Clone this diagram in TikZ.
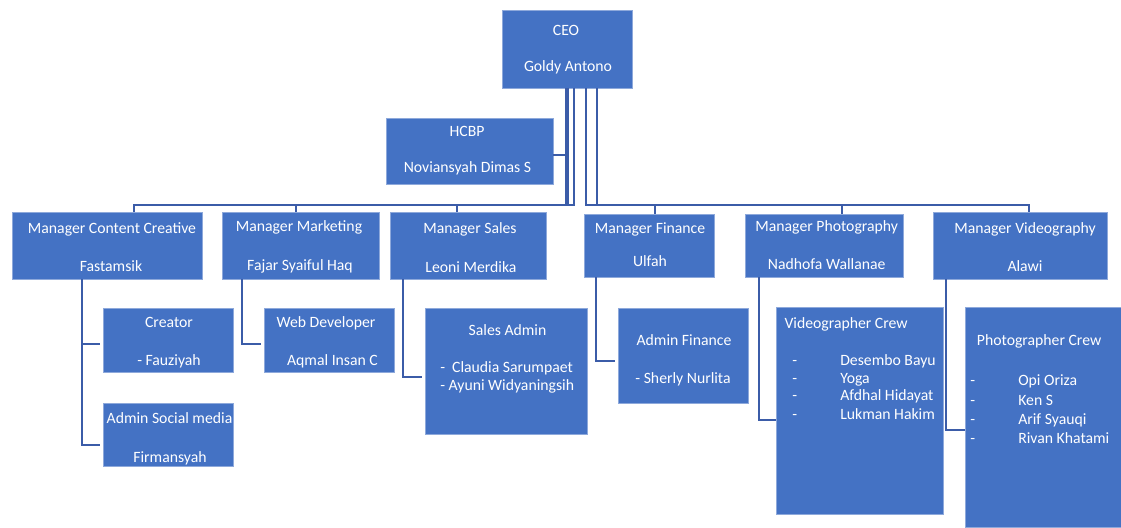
\documentclass[tikz,border=0pt]{standalone}
\usepackage{fontspec}
\setmainfont{Carlito}
\definecolor{boxblue}{HTML}{4472C4}
\definecolor{boxedge}{HTML}{8EA9DB}
\definecolor{linkblue}{HTML}{3B5CA8}
\newcommand\orgbox[5]{\node[orgbx, minimum width={(#4-#2)*0.75pt}, minimum height={(#5-#3)*0.75pt}] (#1) at ({(#2+#4)/2},{(#3+#5)/2}) {};}
\tikzset{
  orgbx/.style={rectangle, fill=boxblue, draw=boxedge, line width=0.4pt, inner sep=0pt, outer sep=0pt},
  orgtx/.style={text=white, font=\fontsize{11.8}{14}\selectfont, inner sep=0pt, anchor=base},
  orgtl/.style={orgtx, anchor=base west},
  conn/.style={draw=linkblue, line width=1.6pt, line join=miter}
}
\begin{document}
\begin{tikzpicture}[x=0.75pt,y=-0.75pt]
\useasboundingbox (0,0) rectangle (1121,528);
\fill[white] (0,0) rectangle (1121,528);
% boxes
\orgbox{ceo}{502}{10}{632}{88}
\orgbox{hcbp}{386}{118}{553}{184}
\orgbox{mcc}{12}{212}{202}{279}
\orgbox{mmk}{222}{212}{379}{279}
\orgbox{msl}{390}{212}{546}{279}
\orgbox{mfn}{584}{214}{714}{277}
\orgbox{mph}{745}{214}{903}{277}
\orgbox{mvd}{933}{212}{1107}{279}
\orgbox{crt}{103}{308}{233}{372}
\orgbox{asm}{103}{403}{233}{466}
\orgbox{web}{264}{308}{394}{372}
\orgbox{sad}{425}{308}{587}{434}
\orgbox{afn}{618}{308}{748}{403}
\orgbox{vcr}{776}{307}{943}{514}
\orgbox{pcr}{965}{307}{1121}{527}
% texts
\node[orgtx] (t-ceo1) at (566,35.5) {CEO};
\node[orgtx] (t-ceo2) at (568,72) {Goldy Antono};
\node[orgtx] (t-hc1) at (467,137) {HCBP};
\node[orgtx] (t-hc2) at (467.5,172) {Noviansyah Dimas S};
\node[orgtx] (t-cc1) at (112,233) {Manager Content Creative};
\node[orgtx] (t-cc2) at (111,271.5) {Fastamsik};
\node[orgtx] (t-mk1) at (299,231.5) {Manager Marketing};
\node[orgtx] (t-mk2) at (300,270) {Fajar Syaiful Haq};
\node[orgtx] (t-sl1) at (470,233.3) {Manager Sales};
\node[orgtx] (t-sl2) at (471,272.3) {Leoni Merdika};
\node[orgtx] (t-fn1) at (650,233.3) {Manager Finance};
\node[orgtx] (t-fn2) at (650,266) {Ulfah};
\node[orgtx] (t-ph1) at (826.7,231.7) {Manager Photography};
\node[orgtx] (t-ph2) at (826.7,269) {Nadhofa Wallanae};
\node[orgtx] (t-vd1) at (1025,233.7) {Manager Videography};
\node[orgtx] (t-vd2) at (1025,271.7) {Alawi};
\node[orgtx] (t-cr1) at (169,327.5) {Creator};
\node[orgtx] (t-cr2) at (169,365.5) {- Fauziyah};
\node[orgtx] (t-as1) at (169.5,423) {Admin Social media};
\node[orgtx] (t-as2) at (170,462.5) {Firmansyah};
\node[orgtx] (t-wb1) at (326,327.5) {Web Developer};
\node[orgtx] (t-wb2) at (332.5,365.5) {Aqmal Insan C};
\node[orgtx] (t-sa1) at (507.5,335.7) {Sales Admin};
\node[orgtl] (t-sa2) at (440,372.3) {-\ \ Claudia Sarumpaet};
\node[orgtl] (t-sa3) at (440,390) {- Ayuni Widyaningsih};
\node[orgtx] (t-af1) at (684,345.7) {Admin Finance};
\node[orgtx] (t-af2) at (683,383.3) {- Sherly Nurlita};
\node[orgtl] (t-vc0) at (784.3,328.3) {Videographer Crew};
\node[orgtl] (t-vcd1) at (792,365.7) {-};
\node[orgtl] (t-vcd2) at (792,383.3) {-};
\node[orgtl] (t-vcd3) at (792,400.7) {-};
\node[orgtl] (t-vcd4) at (792,419) {-};
\node[orgtl] (t-vc1) at (840,365.7) {Desembo Bayu};
\node[orgtl] (t-vc2) at (840,383.3) {Yoga};
\node[orgtl] (t-vc3) at (840,400.7) {Afdhal Hidayat};
\node[orgtl] (t-vc4) at (840,419) {Lukman Hakim};
\node[orgtl] (t-pc0) at (976.7,345.3) {Photographer Crew};
\node[orgtl] (t-pcd1) at (970,385.7) {-};
\node[orgtl] (t-pcd2) at (970,405) {-};
\node[orgtl] (t-pcd3) at (970,424) {-};
\node[orgtl] (t-pcd4) at (970,443.3) {-};
\node[orgtl] (t-pc1) at (1018,385.7) {Opi Oriza};
\node[orgtl] (t-pc2) at (1018,405) {Ken S};
\node[orgtl] (t-pc3) at (1018,424) {Arif Syauqi};
\node[orgtl] (t-pc4) at (1018,443.3) {Rivan Khatami};
% junction coordinates
\coordinate (j1) at (566.3,205.3);
\coordinate (j2) at (568.3,205.3);
\coordinate (j3) at (574.3,205.3);
\coordinate (j4) at (585.7,205.3);
\coordinate (j5) at (596.7,205.3);
\coordinate (jh) at (568.3,155);
\coordinate (dcc) at (134.3,205.3);
\coordinate (dmk) at (296,205.3);
\coordinate (dsl) at (456.7,205.3);
\coordinate (dfn) at (655,205.3);
\coordinate (dph) at (841.7,205.3);
\coordinate (dvd) at (1028.7,205.3);
% top connectors
\draw[conn] (j1|-ceo.south) -- (j1) -- (dcc) -- (dcc|-mcc.north);
\draw[conn] (j2|-ceo.south) -- (j2) -- (dmk) -- (dmk|-mmk.north);
\draw[conn] (j2|-ceo.south) -- (jh) -- (jh-|hcbp.east);
\draw[conn] (j3|-ceo.south) -- (j3) -- (dsl) -- (dsl|-msl.north);
\draw[conn] (j4|-ceo.south) -- (j4) -- (dfn) -- (dfn|-mfn.north);
\draw[conn] (j5|-ceo.south) -- (j5) -- (dph) -- (dph|-mph.north);
\draw[conn] (j5) -- (dvd) -- (dvd|-mvd.north);
% sub connectors
\coordinate (kcc) at (81.7,344);
\coordinate (kcc2) at (81.7,445);
\draw[conn] (kcc|-mcc.south) -- (kcc2) -- (100,445);
\draw[conn] (kcc) -- (100,344);
\coordinate (kmk) at (242.3,344);
\draw[conn] (kmk|-mmk.south) -- (kmk) -- (261,344);
\coordinate (ksl) at (403.3,377.3);
\draw[conn] (ksl|-msl.south) -- (ksl) -- (421.7,377.3);
\coordinate (kfn) at (596,361);
\draw[conn] (kfn|-mfn.south) -- (kfn) -- (615,361);
\coordinate (kph) at (759.3,420);
\draw[conn] (kph|-mph.south) -- (kph) -- (kph-|vcr.west);
\coordinate (kvd) at (946,430);
\draw[conn] (kvd|-mvd.south) -- (kvd) -- (kvd-|pcr.west);
\end{tikzpicture}
\end{document}
